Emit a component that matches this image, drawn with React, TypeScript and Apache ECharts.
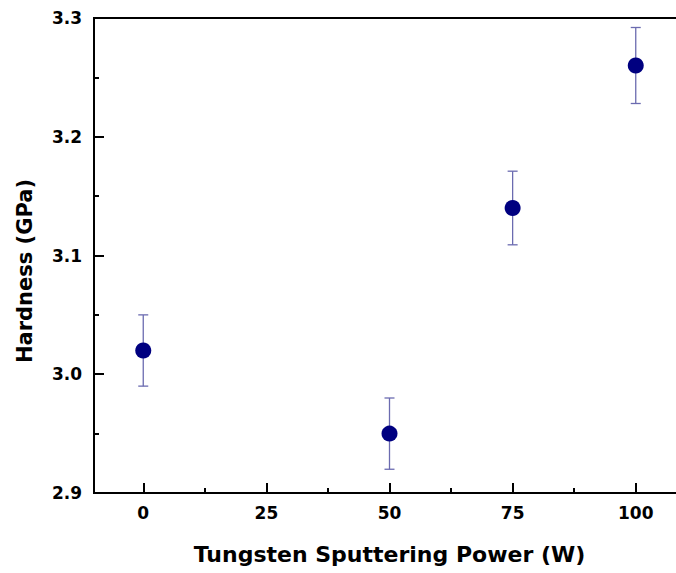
import React, { useEffect, useRef } from "react";
import * as echarts from "echarts";

const powerW = [0, 50, 75, 100];
const hardnessGPa = [3.02, 2.95, 3.14, 3.26];
const errorGPa = [0.03, 0.03, 0.031, 0.032];
const xTicks = [0, 25, 50, 75, 100];
const xMinorTicks = [12.5, 37.5, 62.5, 87.5];

const FONT = "DejaVu Sans";

export default function App() {
  const ref = useRef<HTMLDivElement>(null);
  useEffect(() => {
    if (!ref.current) return;
    const chart = echarts.init(ref.current, null, { renderer: "svg" });
    const points = powerW.map((x, i) => [x, hardnessGPa[i]]);
    const bars = powerW.map((x, i) => [x, hardnessGPa[i] - errorGPa[i], hardnessGPa[i] + errorGPa[i]]);
    const tickStyle = { color: "#000", width: 2 };
    chart.setOption({
      animation: false,
      backgroundColor: "#ffffff",
      grid: { left: 94, top: 18, bottom: 80, right: 5, show: true, borderColor: "#000", borderWidth: 2, backgroundColor: "transparent" },
      xAxis: [
        {
          type: "value",
          min: -10,
          max: 110,
          name: "Tungsten Sputtering Power (W)",
          nameLocation: "middle",
          nameGap: 50,
          nameTextStyle: { fontFamily: FONT, fontWeight: "bold", fontSize: 22, color: "#000" },
          axisLine: { show: true, onZero: false, lineStyle: { color: "#000", width: 2 } },
          axisTick: { show: true, inside: true, length: 10, lineStyle: tickStyle, customValues: xTicks },
          minorTick: { show: false },
          axisLabel: {
            fontFamily: FONT, fontWeight: "bold", fontSize: 17, color: "#000", margin: 11,
            customValues: xTicks,
          },
          splitLine: { show: false },
        },
        {
          type: "value",
          min: -10,
          max: 110,
          position: "bottom",
          axisLine: { show: false, onZero: false },
          axisTick: { show: true, inside: true, length: 5, lineStyle: tickStyle, customValues: xMinorTicks },
          axisLabel: { show: false },
          splitLine: { show: false },
        },
      ],
      yAxis: {
        type: "value",
        min: 2.9,
        max: 3.3,
        interval: 0.1,
        axisLine: { show: true, onZero: false, lineStyle: { color: "#000", width: 2 } },
        axisTick: { show: true, inside: true, length: 10, lineStyle: tickStyle },
        minorTick: { show: true, splitNumber: 2, length: 5, lineStyle: tickStyle },
        axisLabel: {
          fontFamily: FONT, fontWeight: "bold", fontSize: 17, color: "#000", margin: 12,
          formatter: (v: number) => v.toFixed(1),
        },
        splitLine: { show: false },
      },
      graphic: [
        {
          type: "text",
          x: 25,
          y: 271,
          rotation: Math.PI / 2,
          style: {
            text: "Hardness (GPa)",
            font: `bold 21px "${FONT}"`,
            fill: "#000",
            align: "center",
            verticalAlign: "middle",
          },
        },
      ],
      series: [
        {
          type: "custom",
          data: bars,
          z: 2,
          renderItem: (params: any, api: any) => {
            const x = api.value(0);
            const lo = api.coord([x, api.value(1)]);
            const hi = api.coord([x, api.value(2)]);
            const style = { stroke: "#6b6bb0", lineWidth: 1.3 };
            const cap = 5;
            return {
              type: "group",
              children: [
                { type: "line", shape: { x1: lo[0], y1: lo[1], x2: hi[0], y2: hi[1] }, style },
                { type: "line", shape: { x1: lo[0] - cap, y1: lo[1], x2: lo[0] + cap, y2: lo[1] }, style },
                { type: "line", shape: { x1: hi[0] - cap, y1: hi[1], x2: hi[0] + cap, y2: hi[1] }, style },
              ],
            };
          },
        },
        {
          type: "scatter",
          data: points,
          symbol: "circle",
          symbolSize: 16,
          z: 3,
          itemStyle: { color: "#000080", opacity: 1 },
        },
      ],
    });
    return () => chart.dispose();
  }, []);
  return (
    <div style={{ position: "fixed", left: 0, top: 0, width: 676, height: 573, overflow: "hidden", background: "#fff" }}>
      <div ref={ref} style={{ width: 690, height: 573 }} />
    </div>
  );
}
